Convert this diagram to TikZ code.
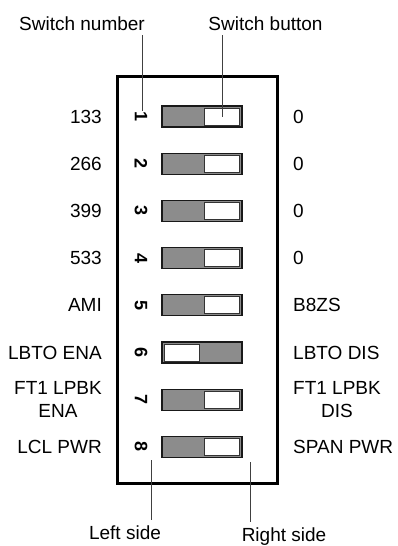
\documentclass[tikz,border=0pt]{standalone}
\usepackage{fontspec}
\setmainfont{Liberation Sans}
\usetikzlibrary{positioning}

\begin{document}
\begin{tikzpicture}[
    x=1pt, y=-1pt,
    switch/.style={rectangle, draw=black!90, line width=1.2pt, fill=black!45, minimum width=80pt, minimum height=21pt, inner sep=0pt, outer sep=0pt},
    button/.style={rectangle, draw=black!80, line width=1pt, fill=white, minimum width=35pt, minimum height=17pt, inner sep=0pt},
    swnum/.style={font=\fontsize{18}{18}\selectfont\bfseries, rotate=-90, inner sep=0pt},
    setting/.style={font=\fontsize{19}{23.5}\selectfont, align=center, inner sep=0pt},
    callout/.style={font=\fontsize{19}{23}\selectfont, inner sep=5pt},
    leader/.style={draw=black!75, line width=0.7pt}
]
\useasboundingbox (0,0) rectangle (398,546);

% housing of the DIP switch
\node[draw, line width=2.7pt, minimum width=160pt, minimum height=407pt, inner sep=0pt] (dip) at (197.8,279.7) {};

% switch bodies
\node[switch] (sw1) at (202,116.5) {};
\node[switch, below=26.2pt of sw1] (sw2) {};
\node[switch, below=26.2pt of sw2] (sw3) {};
\node[switch, below=26.2pt of sw3] (sw4) {};
\node[switch, below=26.2pt of sw4] (sw5) {};
\node[switch, below=26.2pt of sw5] (sw6) {};
\node[switch, below=26.2pt of sw6] (sw7) {};
\node[switch, below=26.2pt of sw7] (sw8) {};

% buttons (all to the right, except switch 6)
\node[button, anchor=east] (btn1) at ([xshift=-2pt]sw1.east) {};
\node[button, anchor=east] (btn2) at ([xshift=-2pt]sw2.east) {};
\node[button, anchor=east] (btn3) at ([xshift=-2pt]sw3.east) {};
\node[button, anchor=east] (btn4) at ([xshift=-2pt]sw4.east) {};
\node[button, anchor=east] (btn5) at ([xshift=-2pt]sw5.east) {};
\node[button, anchor=west] (btn6) at ([xshift=2pt]sw6.west) {};
\node[button, anchor=east] (btn7) at ([xshift=-2pt]sw7.east) {};
\node[button, anchor=east] (btn8) at ([xshift=-2pt]sw8.east) {};

% switch numbers
\node[swnum] (num1) at ([xshift=-21pt]sw1.west) {1};
\node[swnum] (num2) at ([xshift=-21pt]sw2.west) {2};
\node[swnum] (num3) at ([xshift=-21pt]sw3.west) {3};
\node[swnum] (num4) at ([xshift=-21pt]sw4.west) {4};
\node[swnum] (num5) at ([xshift=-21pt]sw5.west) {5};
\node[swnum] (num6) at ([xshift=-21pt]sw6.west) {6};
\node[swnum] (num7) at ([xshift=-21pt]sw7.west) {7};
\node[swnum] (num8) at ([xshift=-21pt]sw8.west) {8};

% left side settings
\node[setting, left=60pt of sw1] (left1) {133};
\node[setting, left=60pt of sw2] (left2) {266};
\node[setting, left=60pt of sw3] (left3) {399};
\node[setting, left=60pt of sw4] (left4) {533};
\node[setting, left=60pt of sw5] (left5) {AMI};
\node[setting, left=60pt of sw6] (left6) {LBTO ENA};
\node[setting, left=60pt of sw7] (left7) {FT1 LPBK\\ENA};
\node[setting, left=60pt of sw8] (left8) {LCL PWR};

% right side settings
\node[setting, right=51pt of sw1] (right1) {0};
\node[setting, right=51pt of sw2] (right2) {0};
\node[setting, right=51pt of sw3] (right3) {0};
\node[setting, right=51pt of sw4] (right4) {0};
\node[setting, right=51pt of sw5] (right5) {B8ZS};
\node[setting, right=51pt of sw6] (right6) {LBTO DIS};
\node[setting, right=51pt of sw7] (right7) {FT1 LPBK\\DIS};
\node[setting, right=51pt of sw8] (right8) {SPAN PWR};

% callouts
\node[callout, anchor=base] (numlbl) at (82,30) {Switch number};
\node[callout, anchor=base] (btnlbl) at (265.5,30) {Switch button};
\node[callout, anchor=base] (leftlbl) at (125,539) {Left side};
\node[callout, anchor=base] (rightlbl) at (284,541) {Right side};

\coordinate (leftend) at (151.7,460);
\coordinate (rightend) at (250,462);

\draw[leader] ([xshift=1pt]num1.center |- numlbl.south) -- ([xshift=1pt,yshift=6pt]num1.center);
\draw[leader] (btn1.center |- btnlbl.south) -- (btn1.center);
\draw[leader] (leftend) -- (leftend |- leftlbl.north);
\draw[leader] (rightend) -- (rightend |- rightlbl.north);
\end{tikzpicture}
\end{document}
